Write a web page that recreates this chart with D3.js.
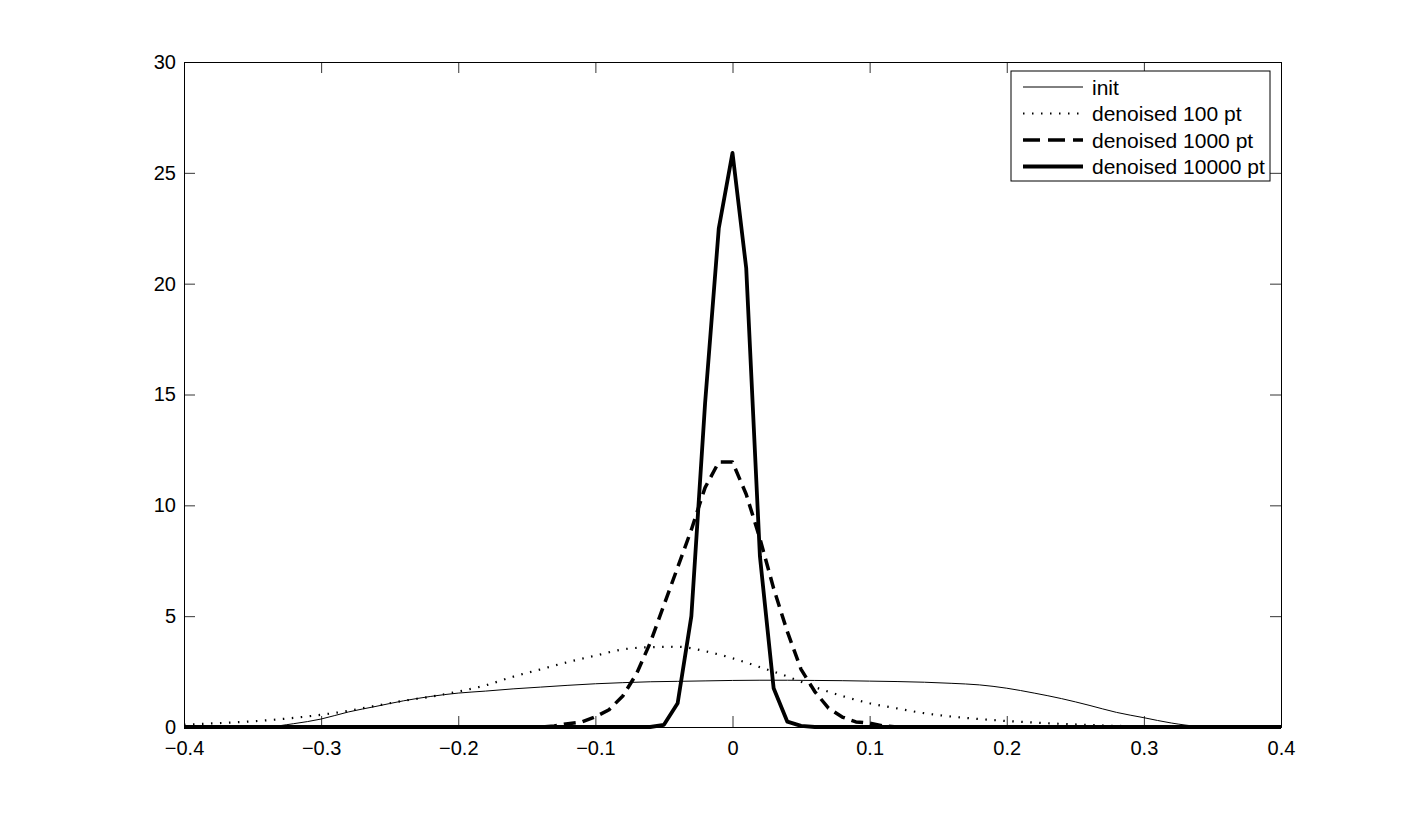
<!DOCTYPE html>
<html>
<head>
<meta charset="utf-8">
<script src="https://cdn.jsdelivr.net/npm/d3@7"></script>
<style>
  body { margin: 0; background: #fff; }
  text { font-family: "Liberation Sans", Helvetica, Arial, sans-serif; }
</style>
</head>
<body>
<div id="chart"></div>
<script>
// x grids (data units)
var gridCoarse = d3.range(-0.40, 0.4001, 0.02);
var gridFine = d3.range(-0.40, 0.4001, 0.01);

// "init" density, sampled every 0.02
var initValues = [0, 0, 0, 0.01, 0.15, 0.36, 0.68, 0.93, 1.18, 1.38, 1.53,
  1.62, 1.72, 1.8, 1.88, 1.95, 2.0, 2.04, 2.06, 2.08, 2.1,
  2.11, 2.11, 2.1, 2.09, 2.07, 2.05, 2.02, 1.97, 1.9, 1.75,
  1.53, 1.28, 0.98, 0.66, 0.42, 0.18, 0.03, 0, 0, 0];

// denoised 100 pt, sampled every 0.02
var dn100Values = [0.1, 0.16, 0.22, 0.3, 0.41, 0.55, 0.73, 0.96, 1.18, 1.37, 1.6,
  1.88, 2.27, 2.6, 2.93, 3.22, 3.5, 3.6, 3.62, 3.42, 3.1,
  2.7, 2.28, 1.8, 1.4, 1.07, 0.84, 0.62, 0.47, 0.36, 0.27,
  0.2, 0.14, 0.09, 0.05, 0.03, 0.01, 0, 0, 0, 0];

// denoised 1000 pt, sampled every 0.01 (from -0.40)
var dn1000Values = [0, 0, 0, 0, 0, 0, 0, 0, 0, 0,
  0, 0, 0, 0, 0, 0, 0, 0, 0, 0,
  0, 0, 0, 0, 0, 0, 0, 0.05, 0.15, 0.23,
  0.46, 0.78, 1.4, 2.4, 3.8, 5.5, 7.2, 8.9, 10.8, 11.95,
  11.95, 10.5, 8.5, 6.25, 4.3, 2.6, 1.6, 0.85, 0.45, 0.23,
  0.17, 0.05, 0, 0, 0, 0, 0, 0, 0, 0,
  0, 0, 0, 0, 0, 0, 0, 0, 0, 0,
  0, 0, 0, 0, 0, 0, 0, 0, 0, 0, 0];

// denoised 10000 pt, sampled every 0.01 (from -0.40)
var dn10000Values = [0, 0, 0, 0, 0, 0, 0, 0, 0, 0,
  0, 0, 0, 0, 0, 0, 0, 0, 0, 0,
  0, 0, 0, 0, 0, 0, 0, 0, 0, 0,
  0, 0, 0, 0, 0, 0.1, 1.07, 5.0, 14.6, 22.5,
  25.9, 20.7, 7.7, 1.75, 0.24, 0.05, 0, 0, 0, 0,
  0, 0, 0, 0, 0, 0, 0, 0, 0, 0,
  0, 0, 0, 0, 0, 0, 0, 0, 0, 0,
  0, 0, 0, 0, 0, 0, 0, 0, 0, 0, 0];

var xTicks = [-0.4, -0.3, -0.2, -0.1, 0, 0.1, 0.2, 0.3, 0.4];
var yTicks = [0, 5, 10, 15, 20, 25, 30];
var seriesNames = ["init", "denoised 100 pt", "denoised 1000 pt", "denoised 10000 pt"];

var margin = {top: 62, right: 134, bottom: 92, left: 184},
    width = 1415 - margin.left - margin.right,
    height = 819 - margin.top - margin.bottom;

var x = d3.scaleLinear().domain([-0.4, 0.4]).range([0, width]);
var y = d3.scaleLinear().domain([0, 30]).range([height, 0]);

var svg = d3.select("#chart").append("svg")
    .attr("width", 1415)
    .attr("height", 819)
  .append("g")
    .attr("transform", `translate(${margin.left},${margin.top})`);

var fmt = d => (d < 0 ? "\u2212" : "") + String(Math.abs(d));
var tickLen = 11;

// axes (ticks pointing inward on all four sides)
svg.append("g")
    .attr("transform", `translate(0,${height})`)
    .call(d3.axisBottom(x).tickValues(xTicks).tickSize(-tickLen).tickPadding(14).tickFormat(fmt));
svg.append("g")
    .call(d3.axisTop(x).tickValues(xTicks).tickSize(-tickLen).tickFormat(""));
svg.append("g")
    .call(d3.axisLeft(y).tickValues(yTicks).tickSize(-tickLen).tickPadding(8).tickFormat(d3.format("d")));
svg.append("g")
    .attr("transform", `translate(${width},0)`)
    .call(d3.axisRight(y).tickValues(yTicks).tickSize(-tickLen).tickFormat(""));

svg.selectAll(".domain").attr("stroke", "#000").attr("stroke-width", 1);
svg.selectAll(".tick line").attr("stroke", "#000").attr("stroke-width", 0.8);
svg.selectAll(".tick text")
    .attr("fill", "#000")
    .style("font-size", "20px");

var smooth = d3.line().x(d => x(d[0])).y(d => y(d[1])).curve(d3.curveMonotoneX);
var straight = d3.line().x(d => x(d[0])).y(d => y(d[1]));

var series = [
  {name: seriesNames[0], pts: d3.zip(gridCoarse, initValues), gen: smooth, w: 1, dash: null},
  {name: seriesNames[1], pts: d3.zip(gridCoarse, dn100Values), gen: smooth, w: 2.2, dash: "1.5,7.5"},
  {name: seriesNames[2], pts: d3.zip(gridFine, dn1000Values), gen: straight, w: 3.5, dash: "12,7"},
  {name: seriesNames[3], pts: d3.zip(gridFine, dn10000Values), gen: straight, w: 3.8, dash: null}
];

svg.selectAll(".series")
    .data(series)
  .enter().append("path")
    .attr("class", "series")
    .attr("d", d => d.gen(d.pts))
    .attr("fill", "none")
    .attr("stroke", "#000")
    .attr("stroke-width", d => d.w)
    .attr("stroke-linejoin", "round")
    .attr("stroke-dasharray", d => d.dash);

// legend
var lg = svg.append("g")
    .attr("transform", `translate(${1011 - margin.left},${71 - margin.top})`);

lg.append("rect")
    .attr("width", 259)
    .attr("height", 110)
    .attr("fill", "#fff")
    .attr("stroke", "#000")
    .attr("stroke-width", 1);

var item = lg.selectAll(".legend")
    .data(series)
  .enter().append("g")
    .attr("class", "legend")
    .attr("transform", (d, i) => `translate(0,${16 + i * 26.5})`);

item.append("line")
    .attr("x1", 12)
    .attr("x2", 72)
    .attr("stroke", "#000")
    .attr("stroke-width", d => d.w)
    .attr("stroke-dasharray", d => d.dash ? (d.w > 3 ? "17,8" : d.dash) : null);

item.append("text")
    .attr("x", 81)
    .attr("dy", "0.36em")
    .style("font-size", "21px")
    .text(d => d.name);
</script>
</body>
</html>
